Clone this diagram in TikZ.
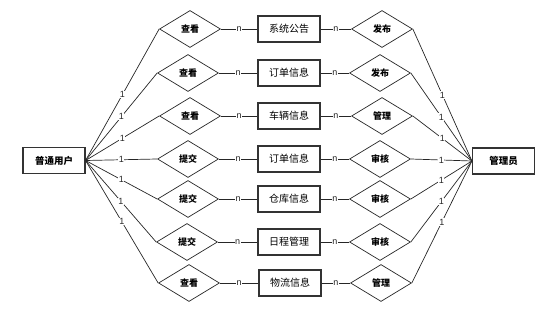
\documentclass[tikz,border=0pt]{standalone}
\usepackage{fontspec}
\newfontfamily\cjk{Noto Sans CJK SC}
\setmainfont{Liberation Sans}
\usetikzlibrary{shapes.geometric}
\tikzset{
  ent/.style={draw=black!80, line width=1.1pt, minimum width=62pt, minimum height=26pt, inner sep=0pt, font=\cjk\fontsize{10}{10}\selectfont},
  mainent/.style={ent, font=\cjk\bfseries\fontsize{9.5}{10}\selectfont},
  rel/.style={diamond, draw=black!85, line width=0.7pt, minimum width=61pt, minimum height=37pt, inner sep=0pt, font=\cjk\bfseries\fontsize{9}{9}\selectfont},
  conn/.style={draw=black!85, line width=0.7pt},
  card/.style={fill=white, inner sep=0.5pt, font=\fontsize{9}{9}\selectfont, text=black!85}
}
\begin{document}
\begin{tikzpicture}[x=1pt,y=-1pt]
\useasboundingbox (0,0) rectangle (557,312);
\node[mainent] (user) at (54,160.5) {普通用户};
\node[mainent] (admin) at (503.5,161) {管理员};
% rows
\node[rel] (l1) at (190,29) {查看};
\node[rel] (l2) at (188,73) {查看};
\node[rel] (l3) at (190,116) {查看};
\node[rel] (l4) at (188,159) {提交};
\node[rel] (l5) at (188,199) {提交};
\node[rel] (l6) at (187,242) {提交};
\node[rel] (l7) at (189,283) {查看};
\node[ent] (e1) at (289,29) {系统公告};
\node[ent] (e2) at (289,73) {订单信息};
\node[ent] (e3) at (289,116) {车辆信息};
\node[ent] (e4) at (289,159) {订单信息};
\node[ent] (e5) at (289,199) {仓库信息};
\node[ent] (e6) at (289,242) {日程管理};
\node[ent] (e7) at (290,283) {物流信息};
\node[rel] (r1) at (382,29) {发布};
\node[rel] (r2) at (380,73) {发布};
\node[rel] (r3) at (382,116) {管理};
\node[rel] (r4) at (380,159) {审核};
\node[rel] (r5) at (380,199) {审核};
\node[rel] (r6) at (380,242) {审核};
\node[rel] (r7) at (381,283) {管理};
\foreach \i in {1,...,7}{
  \draw[conn] (user.east) -- node[card]{1} (l\i.west);
  \draw[conn] (l\i.east) -- node[card]{n} (e\i.west);
  \draw[conn] (e\i.east) -- node[card]{n} (r\i.west);
  \draw[conn] (r\i.east) -- node[card]{1} (admin.west);
}
\end{tikzpicture}
\end{document}
